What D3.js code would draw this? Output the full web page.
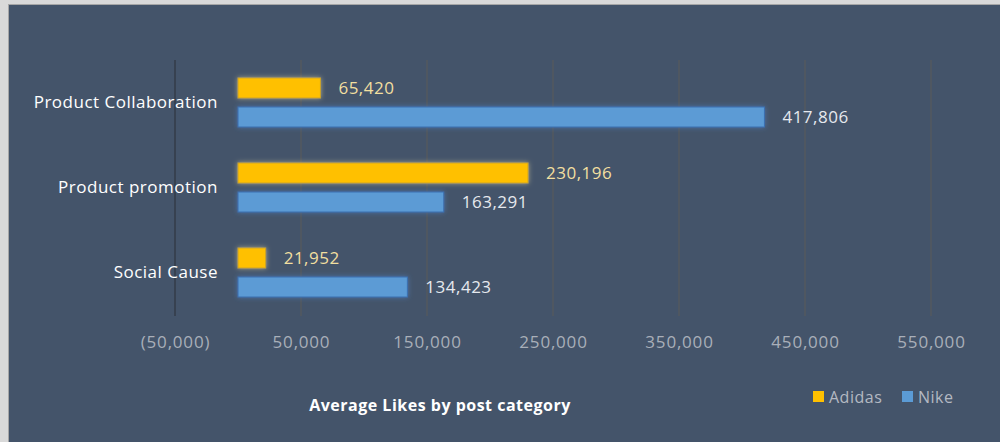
<!DOCTYPE html>
<html>
<head>
<meta charset="utf-8">
<script src="https://cdn.jsdelivr.net/npm/d3@7"></script>
<style>
  html, body { margin: 0; padding: 0; background: #d9d9d9; }
  svg { display: block; }
  text { font-family: "Open Sans", sans-serif; letter-spacing: 0.5px; }
</style>
</head>
<body>
<div class="chart"></div>
<script>
// data
var categories = ["Product Collaboration", "Product promotion", "Social Cause"];
var seriesNames = ["Adidas", "Nike"];
var adidasLikes = [65420, 230196, 21952];
var nikeLikes = [417806, 163291, 134423];
var tickValues = [-50000, 50000, 150000, 250000, 350000, 450000, 550000];

var width = 1000;
var height = 442;
var colors = { Adidas: "#FFC000", Nike: "#5B9BD5" };
var strokes = { Adidas: "#C9A227", Nike: "#3C6FB0" };
var labelColors = { Adidas: "#F2DFA0", Nike: "#E6E9EE" };

var rows = [];
categories.forEach(function(c, i) {
    rows.push({ cat: c, series: "Adidas", value: adidasLikes[i] });
    rows.push({ cat: c, series: "Nike", value: nikeLikes[i] });
});

var svg = d3.select('.chart')
    .append('svg')
    .attr('width', width)
    .attr('height', height);

// glow filters for the bars
var defs = svg.append('defs');
seriesNames.forEach(function(s) {
    var f = defs.append('filter')
        .attr('id', 'glow' + s)
        .attr('x', '-20%').attr('y', '-60%')
        .attr('width', '140%').attr('height', '220%');
    f.append('feDropShadow')
        .attr('dx', 0).attr('dy', 0)
        .attr('stdDeviation', 2.5)
        .attr('flood-color', s == "Adidas" ? "#F5E6A8" : "#4F8FE0")
        .attr('flood-opacity', 0.55);
});

// chart background
svg.append('rect')
    .attr('x', 8.5).attr('y', 4.5)
    .attr('width', width).attr('height', height)
    .attr('fill', '#44546A')
    .attr('stroke', '#a6a6a6');

var xscale = d3.scaleLinear()
    .domain([-50000, 550000])
    .range([175, 931]);

var yscale = d3.scaleBand()
    .domain(categories)
    .range([60, 315]);

var inner = d3.scaleBand()
    .domain(seriesNames)
    .range([0, yscale.bandwidth()])
    .paddingInner(0.31)
    .paddingOuter(0.62);

// vertical gridlines
svg.append('g')
    .selectAll('line')
    .data(tickValues)
    .enter()
    .append('line')
    .attr('x1', d => xscale(d))
    .attr('x2', d => xscale(d))
    .attr('y1', 60)
    .attr('y2', 316)
    .attr('stroke', (d, i) => i == 0 ? '#2b2f36' : '#5b5a58')
    .attr('stroke-width', 1);

// x axis tick labels
var xaxis = d3.axisBottom(xscale)
    .tickValues(tickValues)
    .tickSize(0)
    .tickPadding(0)
    .tickFormat(d => d < 0 ? "(" + d3.format(",")(-d) + ")" : d3.format(",")(d));

var gx = svg.append('g')
    .attr('transform', 'translate(0,' + 333 + ')')
    .call(xaxis);
gx.select('.domain').remove();
gx.selectAll('text')
    .attr('fill', '#A9AFB9')
    .style('font-size', '17px')
    .style('letter-spacing', '0.8px')
    .attr('dy', '0.35em')
    .attr('y', 9);

// category labels
svg.append('g')
    .selectAll('text')
    .data(categories)
    .enter()
    .append('text')
    .text(d => d)
    .attr('x', 218)
    .attr('y', d => yscale(d) + yscale.bandwidth() / 2)
    .attr('dy', '0.35em')
    .attr('text-anchor', 'end')
    .attr('fill', '#FFFFFF')
    .style('font-size', '17px');

// bars
svg.append('g')
    .selectAll('rect')
    .data(rows)
    .enter()
    .append('rect')
    .attr('x', xscale(0))
    .attr('y', d => yscale(d.cat) + inner(d.series))
    .attr('width', d => xscale(d.value) - xscale(0))
    .attr('height', inner.bandwidth())
    .attr('fill', d => colors[d.series])
    .attr('stroke', d => strokes[d.series])
    .attr('stroke-width', 1)
    .attr('filter', d => 'url(#glow' + d.series + ')');

// value labels
svg.append('g')
    .selectAll('text')
    .data(rows)
    .enter()
    .append('text')
    .text(d => d3.format(",")(d.value))
    .attr('x', d => xscale(d.value) + 18)
    .attr('y', d => yscale(d.cat) + inner(d.series) + inner.bandwidth() / 2)
    .attr('dy', '0.35em')
    .attr('fill', d => labelColors[d.series])
    .style('font-size', '17px');

// title
svg.append('text')
    .text('Average Likes by post category')
    .attr('x', 440)
    .attr('y', 405)
    .attr('dy', '0.35em')
    .attr('text-anchor', 'middle')
    .attr('fill', '#FFFFFF')
    .style('font-size', '16px')
    .style('font-weight', 'bold');

// legend
var legend = svg.append('g')
    .selectAll('g')
    .data(seriesNames)
    .enter()
    .append('g')
    .attr('transform', (d, i) => 'translate(' + (i == 0 ? 813 : 902) + ',391)');
legend.append('rect')
    .attr('width', 11).attr('height', 11)
    .attr('fill', d => colors[d]);
legend.append('text')
    .text(d => d)
    .attr('x', 16)
    .attr('y', 6)
    .attr('dy', '0.35em')
    .attr('fill', '#B4B9C2')
    .style('font-size', '16px');
</script>
</body>
</html>
